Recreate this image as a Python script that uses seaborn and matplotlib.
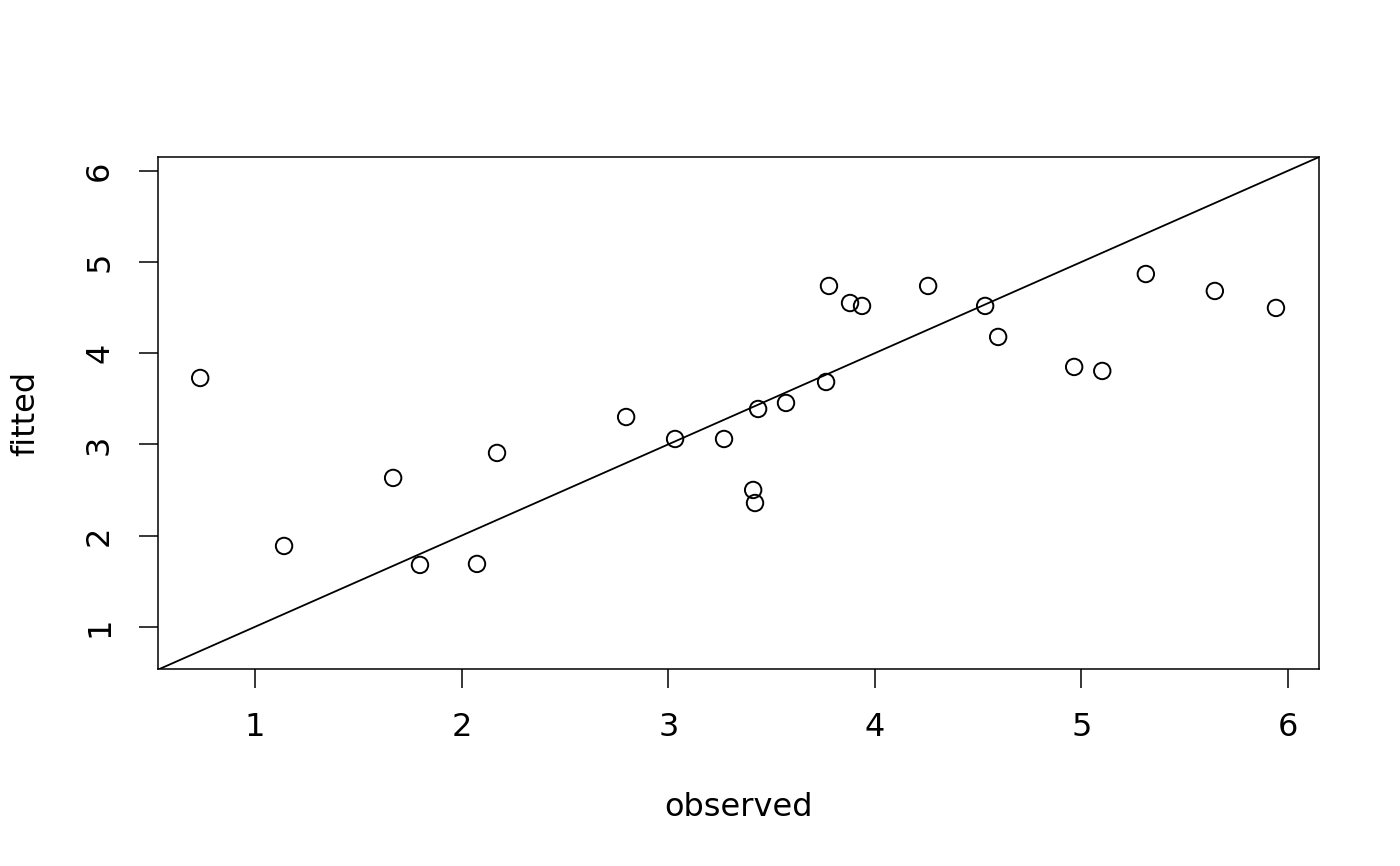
import numpy as np
import pandas as pd
import seaborn as sns
import matplotlib
matplotlib.use("Agg")
import matplotlib.pyplot as plt

# observed vs fitted values
observed = [0.734, 1.140, 1.668, 1.798, 2.074, 2.171, 2.796, 3.033, 3.270, 3.411,
            3.420, 3.435, 3.570, 3.764, 3.778, 3.880, 3.938, 4.258, 4.534, 4.597,
            4.965, 5.101, 5.312, 5.646, 5.942]
fitted = [3.728, 1.886, 2.632, 1.678, 1.689, 2.906, 3.300, 3.059, 3.059, 2.500,
          2.357, 3.388, 3.454, 3.684, 4.737, 4.550, 4.518, 4.737, 4.518, 4.178,
          3.849, 3.805, 4.868, 4.682, 4.496]
ticks = [1, 2, 3, 4, 5, 6]
ref_intercept = 0
ref_slope = 1

df = pd.DataFrame({"observed": observed, "fitted": fitted})

sns.set_style("white")
plt.rcParams["font.family"] = ["DejaVu Sans"]

fig = plt.figure(figsize=(14, 8.66), dpi=100)
ax = fig.add_axes([0.1129, 0.2275, 0.8292, 0.5912])

sns.scatterplot(data=df, x="observed", y="fitted", ax=ax, s=140,
                facecolor="none", edgecolor="black", linewidth=1.4)
ax.axline((0, ref_intercept), slope=ref_slope, color="black", linewidth=1.3)

ax.set_xlim(0.530, 6.150)
ax.set_ylim(0.537, 6.151)
ax.set_xticks(ticks)
ax.set_yticks(ticks)
ax.set_yticklabels([str(t) for t in ticks], rotation=90, va="center")
ax.tick_params(axis="both", direction="out", length=14, width=1.1,
               labelsize=23, colors="black", pad=17)
ax.tick_params(axis="both", bottom=True, left=True)
for sp in ax.spines.values():
    sp.set_color("black")
    sp.set_linewidth(1.1)

ax.set_xlabel("observed", fontsize=23, color="black", labelpad=35)
ax.set_ylabel("fitted", fontsize=23, color="black", labelpad=31)

fig.savefig("out.png", dpi=100, facecolor="white")
